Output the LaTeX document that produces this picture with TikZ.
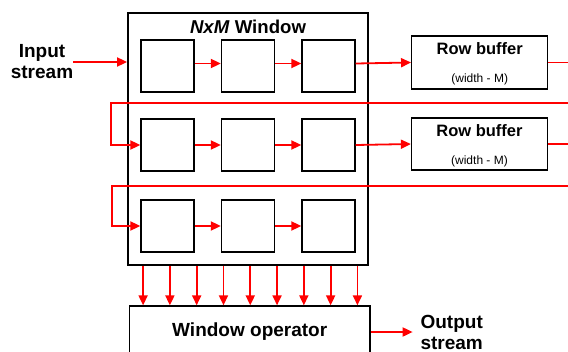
\documentclass[tikz,border=0pt]{standalone}
\usepackage{fontspec}
\setmainfont{Liberation Sans}
\usetikzlibrary{arrows.meta,calc}
\begin{document}
\begin{tikzpicture}[x=1pt,y=-1pt,
  box/.style={draw=black, line width=1.3pt, fill=white, inner sep=0pt},
  cell/.style={box, minimum width=53pt, minimum height=52pt},
  buf/.style={box, minimum width=136pt, minimum height=53pt},
  wire/.style={red, line width=1.8pt},
  arr/.style={wire, -{Triangle[length=10pt,width=9pt]}},
  lbl/.style={font=\fontsize{19}{21}\selectfont\bfseries, align=center, inner sep=0pt},
  buftxt/.style={font=\fontsize{16.5}{18}\selectfont\bfseries, inner sep=0pt},
  bufsub/.style={font=\fontsize{12}{14}\selectfont, inner sep=0pt}]
\useasboundingbox (0,0) rectangle (568,351);
\clip (0,0) rectangle (568,351);

% N x M window frame and title
\node[draw=black, line width=1.8pt, minimum width=240pt, minimum height=252pt, inner sep=0pt] (win) at (248,139) {};
\node[font=\fontsize{18.6}{20}\selectfont\bfseries, inner sep=0pt] (title) at (248,27) {\textit{NxM} Window};

% window cells
\foreach \c/\x in {1/167.5,2/248,3/328.5}{
  \node[cell] (c1\c) at (\x,66) {};
  \node[cell] (c2\c) at (\x,145) {};
  \node[cell] (c3\c) at (\x,226) {};
}

% row buffers
\node[buf] (rb1) at (479.7,62.5) {};
\node[buf, minimum height=52pt] (rb2) at (479.5,144) {};
\foreach \r in {rb1,rb2}{
  \node[buftxt] at ($(\r.north)+(0,13)$) {Row buffer};
  \node[bufsub] at ($(\r.north)+(0,44)$) {(width - M)};
}

% input
\node[lbl] (in) at (42,62) {Input\\stream};
\draw[arr] (in.east) -- (in.east -| win.west);

% row 1 shift chain
\draw[arr] ([yshift=2.5pt]c11.east) -- ([yshift=2.5pt]c12.west);
\draw[arr] ([yshift=2.5pt]c12.east) -- ([yshift=2.5pt]c13.west);
\draw[arr] ([yshift=2.5pt]c13.east) -- (rb1.west);
% row 2 and row 3 shift chains
\draw[arr] (c21.east) -- (c22.west);
\draw[arr] (c22.east) -- (c23.west);
\draw[arr] (c23.east) -- (rb2.west);
\draw[arr] (c31.east) -- (c32.west);
\draw[arr] (c32.east) -- (c33.west);

% buffer outputs and feedback into the next row
\coordinate (edge) at (570,0);
\draw[wire] (rb1.east) -- (rb1.east -| edge);
\draw[wire] (rb2.east) -- (rb2.east -| edge);
\coordinate (fb1) at (570,103);
\coordinate (fb2) at (570,186);
\coordinate (lx1) at (111,0);
\coordinate (lx2) at (112,0);
\draw[arr] (fb1) -- (fb1 -| lx1) |- (c21.west);
\draw[arr] (fb2) -- (fb2 -| lx2) |- (c31.west);

% window operator
\node[box, minimum width=240.7pt, minimum height=52pt, font=\fontsize{19}{21}\selectfont\bfseries] (op) at (249.7,332) {Window operator};
\foreach \i in {0,...,8}{
  \path (win.south west) ++(16+26.79*\i,0) coordinate (t\i);
  \draw[arr] (t\i) -- (t\i |- op.north);
}

% output
\node[lbl, inner xsep=7.7pt] (out) at (451.7,332) {Output\\stream};
\draw[arr] (op.east) -- (out.west);
\end{tikzpicture}
\end{document}
